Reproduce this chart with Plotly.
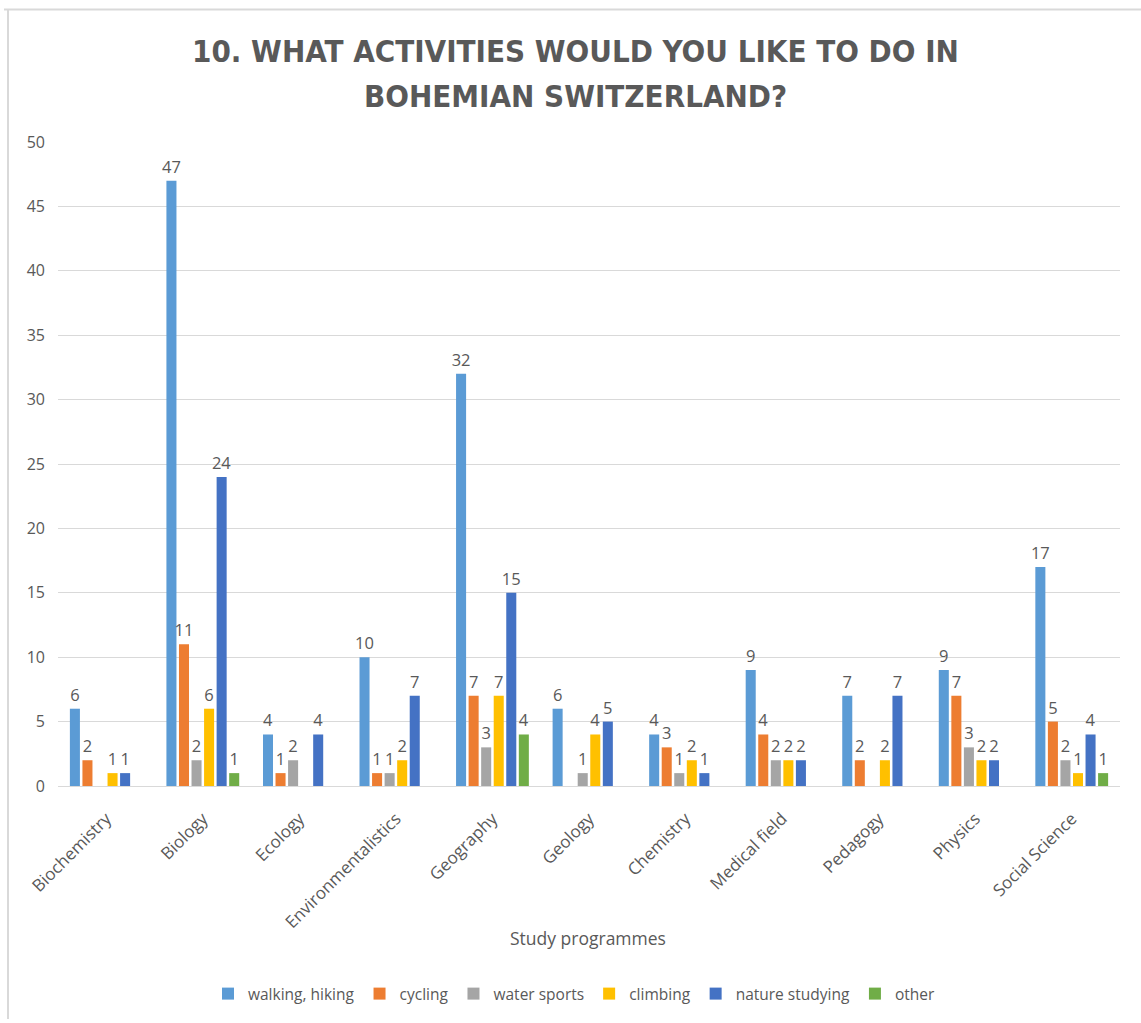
import plotly.graph_objects as go

# Survey answers per study programme
programmes = ["Biochemistry", "Biology", "Ecology", "Environmentalistics", "Geography",
              "Geology", "Chemistry", "Medical field", "Pedagogy", "Physics", "Social Science"]

walking_hiking = [6, 47, 4, 10, 32, 6, 4, 9, 7, 9, 17]
cycling = [2, 11, 1, 1, 7, None, 3, 4, 2, 7, 5]
water_sports = [None, 2, 2, 1, 3, 1, 1, 2, None, 3, 2]
climbing = [1, 6, None, 2, 7, 4, 2, 2, 2, 2, 1]
nature_studying = [1, 24, 4, 7, 15, 5, 1, 2, 7, 2, 4]
other = [None, 1, None, None, 4, None, None, None, None, None, 1]

title_lines = ["10. WHAT ACTIVITIES WOULD YOU LIKE TO DO IN", "BOHEMIAN SWITZERLAND?"]

series = [
    ("walking, hiking", walking_hiking, "#5B9BD5"),
    ("cycling", cycling, "#ED7D31"),
    ("water sports", water_sports, "#A5A5A5"),
    ("climbing", climbing, "#FFC000"),
    ("nature studying", nature_studying, "#4472C4"),
    ("other", other, "#70AD47"),
]

W, H = 1141, 1023
ML, MR, MT, MB = 58, 21, 142, 234
plot_h = H - MT - MB
plot_w = W - ML - MR

def py(px):
    # pixel row -> paper y
    return (H - MB - px) / plot_h

def pxx(px):
    # pixel column -> paper x
    return (px - ML) / plot_w

TEXT = "#595959"
FONT = "Open Sans"

fig = go.Figure()
for name, vals, col in series:
    fig.add_trace(go.Bar(
        name=name, x=programmes, y=vals,
        marker=dict(color=col, line=dict(width=0)),
        text=[("" if v is None else str(v)) for v in vals],
        textposition="outside", constraintext="none", cliponaxis=False,
        textfont=dict(family=FONT, size=16.5, color=TEXT),
    ))

# two-line heading, each line placed on its own row
heading = [
    dict(text=line, xref="paper", yref="paper", x=pxx(575), y=py(yc),
         xanchor="center", yanchor="middle", showarrow=False,
         font=dict(family="DejaVu Sans Condensed", size=31, color=TEXT, weight="bold"))
    for line, yc in zip(title_lines, [51, 96])
]

fig.update_layout(
    width=W, height=H,
    margin=dict(l=ML, r=MR, t=MT, b=MB),
    paper_bgcolor="white", plot_bgcolor="white",
    barmode="group", bargap=0.22, bargroupgap=0.2,
    font=dict(family=FONT, color=TEXT),
    showlegend=True,
    legend=dict(
        orientation="h", x=pxx(574), xanchor="center", y=py(998), yanchor="middle",
        font=dict(family=FONT, size=15.5, color=TEXT),
        itemwidth=30, traceorder="normal",
    ),
    xaxis=dict(
        tickangle=-45, tickfont=dict(family=FONT, size=17, color=TEXT),
        showline=True, linecolor="#D9D9D9", linewidth=1, ticks="",
        showgrid=False, ticklabelstandoff=15,
    ),
    yaxis=dict(
        range=[0, 50], dtick=5, tickfont=dict(family=FONT, size=16, color=TEXT),
        showgrid=True, gridcolor="#D9D9D9", gridwidth=1,
        zeroline=False, showline=False, ticks="", ticklabelstandoff=12,
    ),
    annotations=heading + [dict(
        text="Study programmes", xref="paper", yref="paper",
        x=pxx(588), y=py(942), yanchor="middle", showarrow=False,
        font=dict(family=FONT, size=17.5, color=TEXT),
    )],
    shapes=[
        dict(type="line", xref="paper", yref="paper",
             x0=pxx(4), x1=pxx(W), y0=py(9), y1=py(9),
             line=dict(color="#D9D9D9", width=2)),
        dict(type="line", xref="paper", yref="paper",
             x0=pxx(8), x1=pxx(8), y0=py(9), y1=py(H),
             line=dict(color="#D9D9D9", width=2)),
    ],
)

fig.write_html("out.html")
